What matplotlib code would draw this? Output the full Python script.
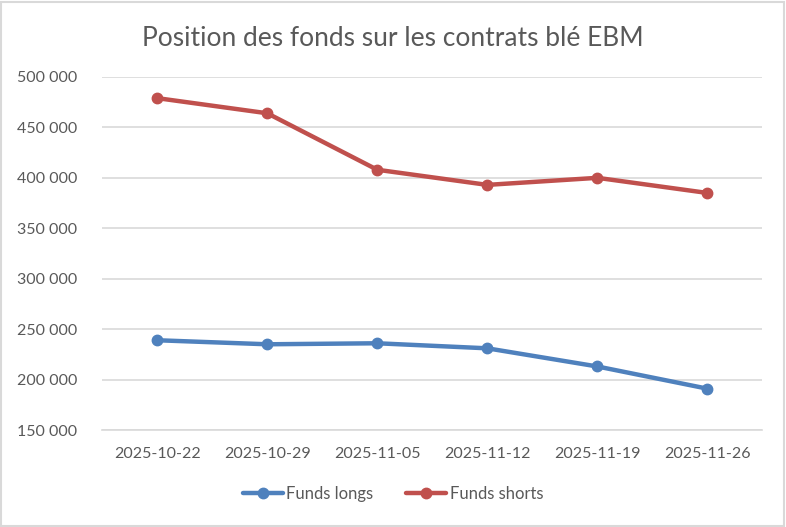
import matplotlib
matplotlib.use("Agg")
import matplotlib.pyplot as plt
from matplotlib.ticker import FuncFormatter
from matplotlib.patches import Rectangle

dates = ["2025-10-22", "2025-10-29", "2025-11-05", "2025-11-12", "2025-11-19", "2025-11-26"]
funds_longs = [239000, 235000, 236000, 231000, 213000, 191000]
funds_shorts = [479000, 464000, 408000, 393000, 400000, 385000]

grey = "#595959"
plt.rcParams['font.family'] = ['Lato', 'DejaVu Sans']

fig = plt.figure(figsize=(7.86, 5.27), dpi=100)
ax = fig.add_axes([0.130, 0.184, 0.840, 0.670])

x = range(len(dates))
ax.plot(x, funds_longs, color="#4F81BD", lw=3.2, marker="o", ms=7.5, label="Funds longs",
        solid_capstyle="round")
ax.plot(x, funds_shorts, color="#C0504D", lw=3.2, marker="o", ms=7.5, label="Funds shorts",
        solid_capstyle="round")

ax.set_xlim(-0.5, len(dates) - 0.5)
ax.set_ylim(150000, 500000)
ax.set_yticks(range(150000, 500001, 50000))
ax.yaxis.set_major_formatter(FuncFormatter(lambda v, p: f"{int(v):,}".replace(",", " ")))
ax.set_xticks(list(x))
ax.set_xticklabels(dates)
ax.grid(axis="y", color="#D9D9D9", lw=1.2)
ax.set_axisbelow(True)
for s in ["top", "right", "left"]:
    ax.spines[s].set_visible(False)
ax.spines["bottom"].set_color("#D9D9D9")
ax.spines["bottom"].set_linewidth(1.2)
ax.tick_params(length=0, colors=grey, labelsize=11.5)
ax.tick_params(axis="y", pad=18)
ax.tick_params(axis="x", pad=12)

fig.text(0.5, 0.927, "Position des fonds sur les contrats blé EBM", ha="center", va="center",
         fontsize=19, color=grey)

fig.legend(loc="center", bbox_to_anchor=(0.5, 0.062), ncol=2, frameon=False, fontsize=12,
           labelcolor=grey, handlelength=2.4, handletextpad=0.2, columnspacing=2.0)

fig.patches.append(Rectangle((0.001, 0.001), 0.997, 0.996, transform=fig.transFigure,
                             fill=False, edgecolor="#D9D9D9", lw=1.5))

fig.savefig("out.png", dpi=100)
